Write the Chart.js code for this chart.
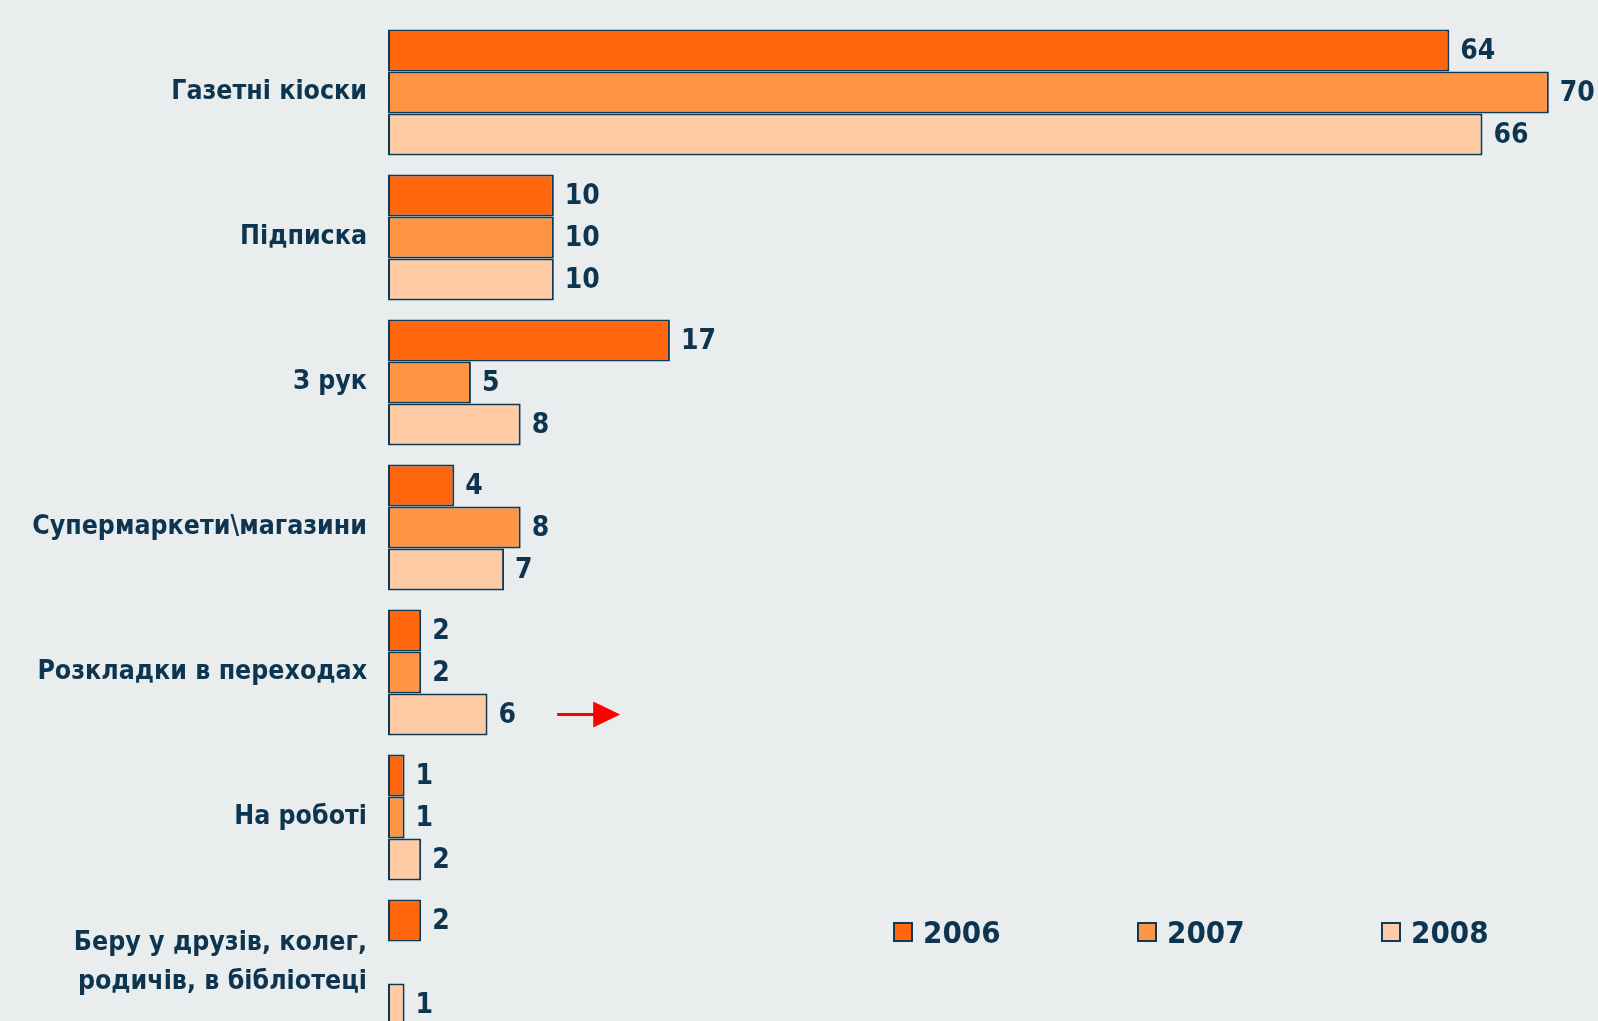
<!DOCTYPE html>
<html>
<head>
<meta charset="utf-8">
<script src="https://cdn.jsdelivr.net/npm/chart.js@4"></script>
<style>
  html, body { margin: 0; padding: 0; background: #e9edee; overflow: hidden; }
  #wrap { position: relative; width: 1598px; height: 1040px; }
  #legend {
    position: absolute; left: 893px; top: 914px;
    display: flex; font: bold 31px "DejaVu Sans Condensed", "DejaVu Sans", sans-serif; color: #0d3550;
  }
  #legend .item { width: 244px; display: flex; align-items: center; }
  #legend .box { width: 16px; height: 16px; border: 2px solid #0d3a55; margin-right: 10px; }
</style>
</head>
<body>
<div id="wrap">
  <canvas id="chart" width="1598" height="1040"></canvas>
  <div id="legend"></div>
</div>
<script>
// Where readers get their paper, % by year
const categories = [
  "Газетні кіоски",
  "Підписка",
  "З рук",
  "Супермаркети\\магазини",
  "Розкладки в переходах",
  "На роботі",
  ["Беру у друзів, колег,", "родичів, в бібліотеці"]
];
const years = ["2006", "2007", "2008"];
const values2006 = [64, 10, 17, 4, 2, 1, 2];
const values2007 = [70, 10, 5, 8, 2, 1, null];
const values2008 = [66, 10, 8, 7, 6, 2, 1];
const colors = ["#ff660e", "#ff9445", "#ffcba5"];

// red pointer next to the "Розкладки" 2008 bar (x in axis units)
const pointerCategory = 4;
const pointerFrom = 10.2;
const pointerTo = 14;

const textColor = "#0d3550";
const fontFamily = '"DejaVu Sans Condensed", "DejaVu Sans", sans-serif';

const valueLabels = {
  id: "valueLabels",
  afterDatasetsDraw(chart) {
    const ctx = chart.ctx;
    ctx.save();
    ctx.font = "bold 28px " + fontFamily;
    ctx.fillStyle = textColor;
    ctx.textAlign = "left";
    ctx.textBaseline = "middle";
    chart.data.datasets.forEach((ds, di) => {
      chart.getDatasetMeta(di).data.forEach((bar, i) => {
        const v = ds.data[i];
        if (v == null) return;
        ctx.fillText(String(v), bar.x + 11, bar.y + 1);
      });
    });
    ctx.restore();
  }
};

const pointer = {
  id: "pointer",
  afterDraw(chart) {
    const bar = chart.getDatasetMeta(2).data[pointerCategory];
    const x = chart.scales.x;
    const x0 = x.getPixelForValue(pointerFrom);
    const x1 = x.getPixelForValue(pointerTo);
    const y = bar.y;
    const ctx = chart.ctx;
    ctx.save();
    ctx.strokeStyle = "#ff0000";
    ctx.fillStyle = "#ff0000";
    ctx.lineWidth = 3;
    ctx.beginPath();
    ctx.moveTo(x0, y);
    ctx.lineTo(x1 - 24, y);
    ctx.stroke();
    ctx.beginPath();
    ctx.moveTo(x1 - 27, y - 13);
    ctx.lineTo(x1, y);
    ctx.lineTo(x1 - 27, y + 13);
    ctx.closePath();
    ctx.fill();
    ctx.restore();
  }
};

const chart = new Chart(document.getElementById("chart"), {
  type: "bar",
  data: {
    labels: categories,
    datasets: [values2006, values2007, values2008].map((d, i) => ({
      label: years[i],
      data: d,
      backgroundColor: colors[i],
      borderColor: "#0d3a55",
      borderWidth: 2,
      borderSkipped: false,
      categoryPercentage: 0.87,
      barPercentage: 1
    }))
  },
  options: {
    indexAxis: "y",
    responsive: false,
    animation: false,
    layout: { padding: { top: 20, bottom: 5, right: 16 } },
    plugins: { legend: { display: false }, tooltip: { enabled: false } },
    scales: {
      x: { display: false, min: 0, max: 72 },
      y: {
        grid: { display: false, drawTicks: false },
        border: { display: false },
        afterFit(scale) {
          // fixed label column; no extra room for the end labels
          scale.width = 388;
          scale.paddingTop = 0;
          scale.paddingBottom = 0;
        },
        ticks: {
          padding: 21,
          color: textColor,
          font: { family: fontFamily, size: 26.5, weight: "bold", lineHeight: 1.48 }
        }
      }
    }
  },
  plugins: [valueLabels, pointer]
});

// legend row at the bottom right
const legend = document.getElementById("legend");
chart.data.datasets.forEach(ds => {
  const item = document.createElement("div");
  item.className = "item";
  item.innerHTML = '<span class="box" style="background:' + ds.backgroundColor + '"></span>' + ds.label;
  legend.appendChild(item);
});
</script>
</body>
</html>
